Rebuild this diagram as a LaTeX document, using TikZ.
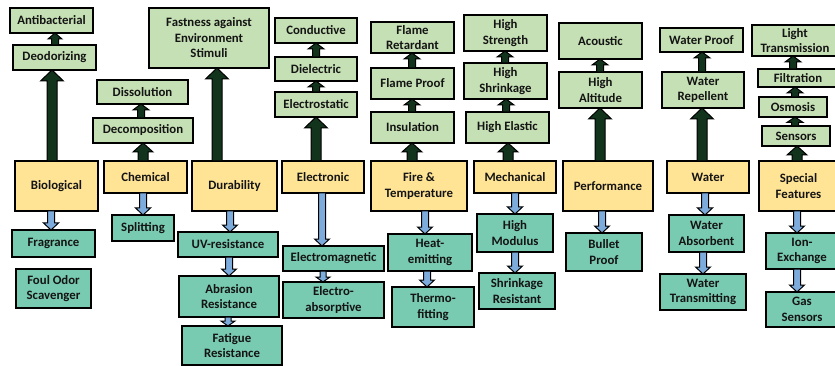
\documentclass[tikz,border=0pt]{standalone}
\usepackage{fontspec}
\setmainfont{Carlito}
\usetikzlibrary{calc}
\definecolor{lgreen}{RGB}{197,224,180}
\definecolor{lyellow}{RGB}{255,228,150}
\definecolor{lteal}{RGB}{120,202,176}
\definecolor{dgreen}{RGB}{18,52,28}
\definecolor{lblue}{RGB}{125,172,220}
\definecolor{txt}{RGB}{20,20,20}
\tikzset{
  basebox/.style={draw=black, line width=1.7pt, align=center, inner sep=0pt, outer sep=0pt,
    font=\bfseries\fontsize{12.8}{15.5}\selectfont, text=txt},
  gbox/.style={basebox, fill=lgreen},
  ybox/.style={basebox, fill=lyellow},
  tbox/.style={basebox, fill=lteal},
  darr/.style={draw=black, line width=1pt, line join=miter, fill=dgreen},
  barr/.style={draw=black, line width=1pt, line join=miter, fill=lblue},
}
% box: name, style, x1, y1, x2, y2, text
\newcommand\Bx[7]{\node[#2, minimum width={#5-#3}, minimum height={#6-#4}] (#1) at ({(#3+#5)/2},{(#4+#6)/2}) {#7};}
% block arrow: [style] x, from, to, shaft half width, head half width, head length
\newcommand\FatArr[7][]{%
  \path[#1] let \p1=(#3), \p2=(#4),
    \n1={sign(\y2-\y1)},
    \n2={min(#7,0.6*abs(\y2-\y1))} in
    (#2pt-#5pt,\y1) -- (#2pt-#5pt,{\y2-(\n1)*(\n2)*1pt}) -- (#2pt-#6pt,{\y2-(\n1)*(\n2)*1pt})
    -- (#2pt,\y2) -- (#2pt+#6pt,{\y2-(\n1)*(\n2)*1pt}) -- (#2pt+#5pt,{\y2-(\n1)*(\n2)*1pt})
    -- (#2pt+#5pt,\y1) -- cycle;}
\begin{document}
\begin{tikzpicture}[x=1pt,y=-1pt]
\useasboundingbox (0,0) rectangle (835,366);
\fill[white] (0,0) rectangle (835,366);
\clip (0,0) rectangle (835,366);
% light green boxes
\Bx{antib}{gbox}{10}{8}{93}{33}{Antibacterial}
\Bx{deodor}{gbox}{13}{45}{96}{70}{Deodorizing}
\Bx{fast}{gbox}{149}{8}{269}{68}{Fastness against\\Environment\\Stimuli}
\Bx{dissol}{gbox}{97}{80}{188}{104}{Dissolution}
\Bx{decomp}{gbox}{93}{118}{193}{143}{Decomposition}
\Bx{cond}{gbox}{275}{18}{357}{43}{Conductive}
\Bx{diel}{gbox}{275}{57}{357}{81}{Dielectric}
\Bx{estat}{gbox}{275}{92}{357}{117}{Electrostatic}
\Bx{fret}{gbox}{371}{22}{454}{53}{Flame\\Retardant}
\Bx{fproof}{gbox}{371}{68}{454}{99}{Flame Proof}
\Bx{insul}{gbox}{371}{112}{454}{143}{Insulation}
\Bx{hstr}{gbox}{464}{15}{547}{51}{High\\Strength}
\Bx{hshr}{gbox}{464}{63}{547}{99}{High\\Shrinkage}
\Bx{hel}{gbox}{466}{112}{549}{143}{High Elastic}
\Bx{acou}{gbox}{559}{23}{642}{59}{Acoustic}
\Bx{halt}{gbox}{559}{72}{642}{108}{High\\Altitude}
\Bx{wproof}{gbox}{660}{28}{743}{52}{Water Proof}
\Bx{wrep}{gbox}{662}{72}{744}{108}{Water\\Repellent}
\Bx{light}{gbox}{752}{25}{838}{56}{Light\\Transmission}
\Bx{filt}{gbox}{758}{69}{838}{87}{Filtration}
\Bx{osm}{gbox}{759}{97}{827}{117}{Osmosis}
\Bx{sens}{gbox}{762}{126}{830}{146}{Sensors}
% yellow boxes
\Bx{bio}{ybox}{15}{161}{98}{211}{Biological}
\Bx{chem}{ybox}{104}{161}{187}{193}{Chemical}
\Bx{dur}{ybox}{192}{161}{277}{211}{Durability}
\Bx{elec}{ybox}{282}{161}{364}{193}{Electronic}
\Bx{fire}{ybox}{371}{161}{467}{211}{Fire \&\\Temperature}
\Bx{mech}{ybox}{474}{161}{556}{193}{Mechanical}
\Bx{perf}{ybox}{563}{161}{653}{211}{Performance}
\Bx{water}{ybox}{667}{161}{749}{193}{Water}
\Bx{spec}{ybox}{759}{161}{838}{211}{Special\\Features}
% teal boxes
\Bx{frag}{tbox}{12}{230}{95}{257}{Fragrance}
\Bx{foul}{tbox}{16}{269}{91}{308}{Foul Odor\\Scavenger}
\Bx{split}{tbox}{112}{215}{174}{241}{Splitting}
\Bx{uv}{tbox}{178}{232}{278}{257}{UV-resistance}
\Bx{abr}{tbox}{179}{276}{279}{317}{Abrasion\\Resistance}
\Bx{fat}{tbox}{182}{326}{282}{365}{Fatigue\\Resistance}
\Bx{emag}{tbox}{283}{246}{384}{271}{Electromagnetic}
\Bx{eabs}{tbox}{283}{282}{384}{318}{Electro-\\absorptive}
\Bx{heat}{tbox}{388}{234}{472}{271}{Heat-\\emitting}
\Bx{thermo}{tbox}{392}{287}{474}{327}{Thermo-\\fitting}
\Bx{hmod}{tbox}{477}{214}{553}{252}{High\\Modulus}
\Bx{shres}{tbox}{479}{273}{555}{309}{Shrinkage\\Resistant}
\Bx{bullet}{tbox}{566}{233}{642}{271}{Bullet\\Proof}
\Bx{wabs}{tbox}{669}{215}{744}{252}{Water\\Absorbent}
\Bx{wtrans}{tbox}{660}{274}{746}{310}{Water\\Transmitting}
\Bx{ion}{tbox}{766}{233}{838}{269}{Ion-\\Exchange}
\Bx{gas}{tbox}{766}{292}{838}{327}{Gas\\Sensors}
% dark up arrows
\FatArr[darr]{52}{bio.north}{deodor.south}{5}{11.5}{11}
\FatArr[darr]{55}{deodor.north}{antib.south}{3.5}{7}{6}
\FatArr[darr]{143}{chem.north}{decomp.south}{5}{10}{9}
\FatArr[darr]{141}{decomp.north}{dissol.south}{3.5}{8}{6}
\FatArr[darr]{217}{dur.north}{fast.south}{5}{11.5}{11}
\FatArr[darr]{316}{elec.north}{estat.south}{5}{11.5}{11}
\FatArr[darr]{316}{estat.north}{diel.south}{3.5}{8}{6}
\FatArr[darr]{316}{diel.north}{cond.south}{3.5}{8}{6}
\FatArr[darr]{412}{fire.north}{insul.south}{5}{10}{9}
\FatArr[darr]{412}{insul.north}{fproof.south}{3.5}{8}{6}
\FatArr[darr]{412}{fproof.north}{fret.south}{3.5}{8}{6}
\FatArr[darr]{508}{mech.north}{hel.south}{5}{10}{9}
\FatArr[darr]{506}{hel.north}{hshr.south}{3.5}{8}{6}
\FatArr[darr]{505}{hshr.north}{hstr.south}{3.5}{8}{6}
\FatArr[darr]{600}{perf.north}{halt.south}{5}{11.5}{11}
\FatArr[darr]{600}{halt.north}{acou.south}{3.5}{8}{6}
\FatArr[darr]{702}{water.north}{wrep.south}{5}{11.5}{11}
\FatArr[darr]{702}{wrep.north}{wproof.south}{3.5}{8}{6}
\FatArr[darr]{797}{spec.north}{sens.south}{5}{10}{9}
\FatArr[darr]{795}{sens.north}{osm.south}{3.5}{8}{6}
\FatArr[darr]{795}{osm.north}{filt.south}{3.5}{8}{6}
\FatArr[darr]{793}{filt.north}{light.south}{3.5}{8}{6}
% blue down arrows
\FatArr[barr]{51}{bio.south}{frag.north}{3.5}{7.5}{7}
\FatArr[barr]{143}{chem.south}{split.north}{3.5}{7.5}{7}
\FatArr[barr]{230}{dur.south}{uv.north}{3.5}{7.5}{7}
\FatArr[barr]{229}{uv.south}{abr.north}{3.5}{7.5}{7}
\FatArr[barr]{228}{abr.south}{fat.north}{3}{7}{5}
\FatArr[barr]{322}{elec.south}{emag.north}{3.5}{7.5}{7}
\FatArr[barr]{323}{emag.south}{eabs.north}{3}{7}{5}
\FatArr[barr]{425}{fire.south}{heat.north}{3.5}{7.5}{7}
\FatArr[barr]{427}{heat.south}{thermo.north}{3.5}{7.5}{7}
\FatArr[barr]{515}{mech.south}{hmod.north}{3.5}{7.5}{7}
\FatArr[barr]{515}{hmod.south}{shres.north}{3.5}{7.5}{7}
\FatArr[barr]{602}{perf.south}{bullet.north}{3.5}{7.5}{7}
\FatArr[barr]{705}{water.south}{wabs.north}{3.5}{7.5}{7}
\FatArr[barr]{703}{wabs.south}{wtrans.north}{3.5}{7.5}{7}
\FatArr[barr]{797}{spec.south}{ion.north}{3.5}{7.5}{7}
\FatArr[barr]{797}{ion.south}{gas.north}{3.5}{7.5}{7}
\end{tikzpicture}
\end{document}
